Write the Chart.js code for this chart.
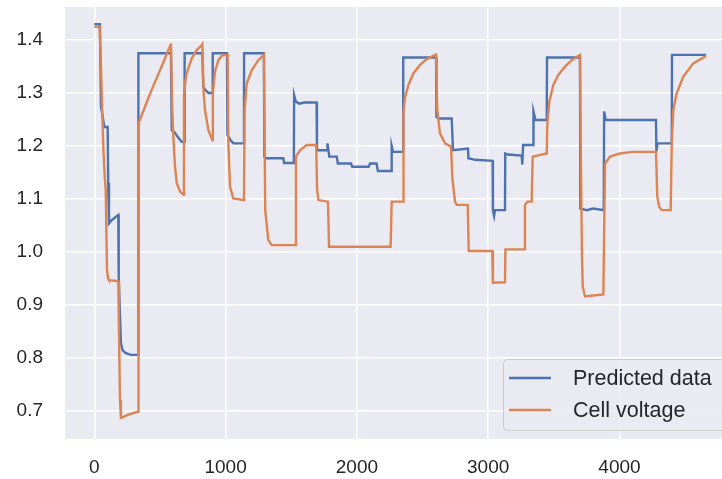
<!DOCTYPE html>
<html>
<head>
<meta charset="utf-8">
<script src="https://cdn.jsdelivr.net/npm/chart.js@4/dist/chart.umd.min.js"></script>
<style>
  html, body { margin: 0; padding: 0; background: #ffffff; overflow: hidden; }
  #wrap { width: 750px; height: 479px; }
</style>
</head>
<body>
<div id="wrap"><canvas id="chart" width="750" height="479"></canvas></div>
<script>
// Predicted data: time (s) and voltage (V)
const predictedTime = [
  0, 43, 51, 60, 76, 102, 106, 112, 132, 183, 186, 203, 215, 240, 280, 335,
  336, 584, 590, 615, 645, 665, 686, 688, 823, 830, 845, 870, 900, 902, 1010,
  1014, 1040, 1060, 1140, 1141, 1292, 1295, 1310, 1440, 1445, 1520, 1522, 1535,
  1560, 1600, 1693, 1696, 1773, 1776, 1790, 1847, 1855, 1955, 1965, 2090, 2100,
  2150, 2160, 2262, 2265, 2275, 2352, 2353, 2603, 2606, 2620, 2722, 2732, 2846,
  2850, 2900, 3034, 3036, 3045, 3052, 3128, 3130, 3150, 3255, 3260, 3266, 3343,
  3345, 3360, 3446, 3448, 3699, 3702, 3750, 3800, 3880, 3883, 3895, 4278, 4281,
  4290, 4398, 4400, 4660
];
const predictedVolts = [
  1.430, 1.430, 1.274, 1.262, 1.236, 1.236, 1.130, 1.054, 1.060, 1.070, 0.953, 0.828, 0.815, 0.809, 0.806, 0.806,
  1.375, 1.375, 1.230, 1.225, 1.214, 1.208, 1.208, 1.375, 1.375, 1.312, 1.306, 1.300, 1.300, 1.375, 1.375,
  1.221, 1.210, 1.205, 1.205, 1.375, 1.375, 1.180, 1.177, 1.177, 1.168, 1.168, 1.296, 1.284,
  1.280, 1.282, 1.282, 1.192, 1.192, 1.205, 1.180, 1.180, 1.167, 1.167, 1.161, 1.161, 1.167,
  1.167, 1.153, 1.153, 1.200, 1.189, 1.189, 1.367, 1.367, 1.255, 1.252, 1.252, 1.192, 1.195,
  1.177, 1.174, 1.172, 1.079, 1.068, 1.079, 1.079, 1.186, 1.184, 1.182, 1.165, 1.202, 1.202,
  1.265, 1.249, 1.249, 1.367, 1.367, 1.082, 1.079, 1.082, 1.079, 1.265, 1.249, 1.249, 1.190,
  1.205, 1.205, 1.372, 1.372
];

// Measured cell voltage: time (s) and voltage (V)
const cellTime = [
  0, 40, 50, 60, 70, 80, 87, 97, 105, 112, 183, 188, 196, 203, 260, 335,
  337, 386, 437, 513, 577, 584, 594, 602, 615, 628, 653, 681, 683, 692, 703, 742,
  780, 818, 823, 833, 843, 869, 894, 901, 903, 919, 945, 970, 1000, 1016,
  1021, 1034, 1059, 1140, 1145, 1161, 1199, 1249, 1292, 1302, 1325, 1351, 1529,
  1536, 1567, 1618, 1690, 1697, 1707, 1780, 1788, 2257, 2265, 2352, 2355, 2366,
  2392, 2430, 2481, 2532, 2603, 2612, 2633, 2671, 2717, 2727, 2747, 2760, 2844,
  2852, 3031, 3036, 3128, 3131, 3275, 3280, 3300, 3331, 3339, 3446, 3450, 3466,
  3496, 3534, 3585, 3636, 3699, 3705, 3714, 3720, 3737, 3800, 3877, 3890, 3928, 4004,
  4105, 4278, 4288, 4303, 4321, 4390, 4398, 4410, 4435, 4486, 4562, 4660
];
const cellVolts = [
  1.425, 1.425, 1.360, 1.270, 1.190, 1.140, 1.117, 0.966, 0.950, 0.947, 0.945, 0.850, 0.720, 0.687, 0.693, 0.699,
  1.243, 1.274, 1.306, 1.350, 1.389, 1.394, 1.268, 1.218, 1.161, 1.130, 1.114, 1.108, 1.296, 1.318, 1.337, 1.365,
  1.381, 1.390, 1.392, 1.300, 1.268, 1.230, 1.214, 1.211, 1.300, 1.340, 1.362, 1.370, 1.372, 1.372,
  1.205, 1.123, 1.101, 1.098, 1.268, 1.318, 1.343, 1.362, 1.372, 1.079, 1.023, 1.013, 1.013,
  1.180, 1.192, 1.202, 1.202, 1.117, 1.098, 1.095, 1.010, 1.010, 1.095, 1.095, 1.265, 1.290,
  1.315, 1.337, 1.353, 1.364, 1.373, 1.268, 1.224, 1.205, 1.199, 1.140, 1.095, 1.089, 1.089,
  1.002, 1.002, 0.942, 0.943, 1.005, 1.005, 1.089, 1.095, 1.095, 1.180, 1.186, 1.240, 1.284,
  1.315, 1.334, 1.350, 1.362, 1.372, 1.200, 1.000, 0.935, 0.916, 0.918, 0.920, 1.167, 1.180, 1.186,
  1.189, 1.189, 1.104, 1.085, 1.079, 1.079, 1.205, 1.268, 1.299, 1.331, 1.356, 1.370
];

const xTicks = [0, 1000, 2000, 3000, 4000];
const yTicks = [0.7, 0.8, 0.9, 1.0, 1.1, 1.2, 1.3, 1.4];
const seriesNames = ['Predicted data', 'Cell voltage'];

const BLUE = '#4C72B0';
const ORANGE = '#DD8452';
const FONT = "'Liberation Sans', Arial, sans-serif";

const toPoints = (xs, ys) => xs.map((x, i) => ({ x: x, y: ys[i] }));

// Grey plotting panel behind the grid
const panelBackground = {
  id: 'panelBackground',
  beforeDraw(chart) {
    const { ctx, chartArea: a } = chart;
    ctx.save();
    ctx.fillStyle = '#EAEAF2';
    ctx.fillRect(a.left, a.top, a.right - a.left, a.bottom - a.top);
    ctx.restore();
  }
};

// Framed legend in the lower-right corner of the panel
const cornerLegend = {
  id: 'cornerLegend',
  afterDatasetsDraw(chart) {
    const { ctx } = chart;
    const colors = [BLUE, ORANGE];
    const box = { x: 503.5, y: 359.5, w: 260, h: 71, r: 4 };
    ctx.save();
    ctx.beginPath();
    ctx.roundRect(box.x, box.y, box.w, box.h, box.r);
    ctx.fillStyle = 'rgba(234,234,242,0.8)';
    ctx.fill();
    ctx.lineWidth = 1;
    ctx.strokeStyle = '#CCCCCC';
    ctx.stroke();
    ctx.font = '21.5px ' + FONT;
    ctx.textBaseline = 'middle';
    ctx.textAlign = 'left';
    const rows = [378, 410];
    seriesNames.forEach((name, i) => {
      ctx.beginPath();
      ctx.moveTo(509, rows[i]);
      ctx.lineTo(551, rows[i]);
      ctx.strokeStyle = colors[i];
      ctx.lineWidth = 2.4;
      ctx.stroke();
      ctx.fillStyle = '#262626';
      ctx.fillText(name, 573, rows[i] + 1);
    });
    ctx.restore();
  }
};

new Chart(document.getElementById('chart'), {
  type: 'line',
  data: {
    datasets: [
      {
        label: seriesNames[0],
        data: toPoints(predictedTime, predictedVolts),
        borderColor: BLUE,
        borderWidth: 2.4,
        pointRadius: 0,
        tension: 0,
        fill: false,
        order: 1
      },
      {
        label: seriesNames[1],
        data: toPoints(cellTime, cellVolts),
        borderColor: ORANGE,
        borderWidth: 2.4,
        pointRadius: 0,
        tension: 0,
        fill: false,
        order: 0
      }
    ]
  },
  options: {
    responsive: false,
    animation: false,
    events: [],
    layout: { padding: { left: 0, right: 13, top: 7, bottom: 0 } },
    plugins: { legend: { display: false }, tooltip: { enabled: false } },
    scales: {
      x: {
        type: 'linear',
        min: -223,
        max: 4895,
        afterFit(scale) {
          scale.height = 40;
          scale.paddingLeft = 0;
          scale.paddingRight = 0;
        },
        afterBuildTicks(scale) { scale.ticks = xTicks.map(v => ({ value: v })); },
        grid: { color: '#FFFFFF', lineWidth: 1.5, drawTicks: false },
        border: { display: false },
        ticks: {
          padding: 17,
          color: '#262626',
          font: { family: FONT, size: 19 },
          maxRotation: 0,
          callback: v => String(v)
        }
      },
      y: {
        type: 'linear',
        min: 0.6472,
        max: 1.4623,
        afterFit(scale) {
          scale.width = 65;
          scale.paddingTop = 0;
          scale.paddingBottom = 0;
        },
        afterBuildTicks(scale) { scale.ticks = yTicks.map(v => ({ value: v })); },
        grid: { color: '#FFFFFF', lineWidth: 1.5, drawTicks: false },
        border: { display: false },
        ticks: {
          padding: 22,
          color: '#262626',
          font: { family: FONT, size: 19 },
          callback: v => v.toFixed(1)
        }
      }
    }
  },
  plugins: [panelBackground, cornerLegend]
});
</script>
</body>
</html>
